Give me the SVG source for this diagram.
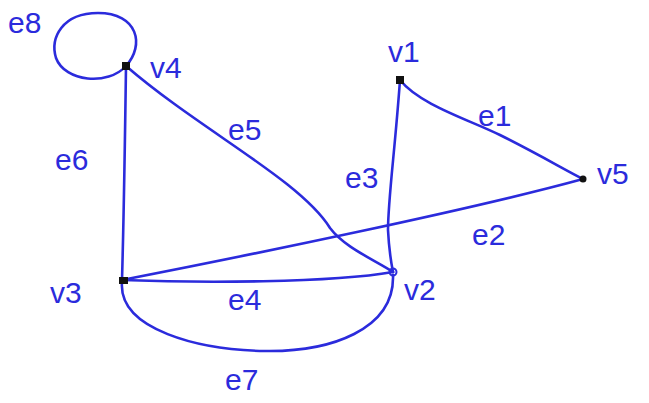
<svg xmlns="http://www.w3.org/2000/svg" width="649" height="403" viewBox="0 0 649 403">
<style>
.e{fill:none;stroke:#2b2bdc;stroke-width:2.6;stroke-linecap:round}
.t{font-family:"Liberation Sans",Arial,sans-serif;font-size:30px;fill:#2b2bdc}
.n{fill:#111}
</style>
<rect width="649" height="403" fill="#fff"/>
<g id="edges">
<path id="e8" class="e" d="M126,66 C145,45 138,13 98,13 C62,13 50,38 56,58 C65,82 108,86 126,66"/>
<path id="e6" class="e" d="M126,66 C125,140 124,210 122,280"/>
<path id="e5" class="e" d="M126,66 C200,130 300,180 330,228 C345,248 375,260 393,272"/>
<path id="e3" class="e" d="M400,80 C395,150 388,200 388,230 C389,250 391,262 393,272"/>
<path id="e2" class="e" d="M122,280 C250,255 470,210 583,179"/>
<path id="e1" class="e" d="M400,80 C420,105 470,120 500,135 C540,155 565,170 583,179"/>
<path id="e4" class="e" d="M122,280 C200,283 330,283 393,272"/>
<path id="e7" class="e" d="M122,282 C118,330 200,350 265,351 C330,352 395,330 393,275"/>
</g>
<g id="v4"><rect class="n" x="122" y="62" width="8" height="8"/><text class="t" x="150" y="78">v4</text></g>
<g id="v1"><rect class="n" x="396" y="76" width="8" height="8"/><text class="t" x="388" y="62">v1</text></g>
<g id="v5"><circle class="n" cx="583" cy="179" r="3.5"/><text class="t" x="597" y="184">v5</text></g>
<g id="v2"><circle cx="393" cy="272" r="3.5" fill="none" stroke="#2b2bdc" stroke-width="2"/><text class="t" x="404" y="300">v2</text></g>
<g id="v3"><rect class="n" x="119" y="277" width="9" height="7"/><text class="t" x="50" y="303">v3</text></g>
<g id="labels">
<text class="t" x="8" y="33">e8</text>
<text class="t" x="228" y="140">e5</text>
<text class="t" x="55" y="170">e6</text>
<text class="t" x="345" y="188">e3</text>
<text class="t" x="478" y="126">e1</text>
<text class="t" x="472" y="245">e2</text>
<text class="t" x="228" y="310">e4</text>
<text class="t" x="225" y="390">e7</text>
</g>
</svg>
